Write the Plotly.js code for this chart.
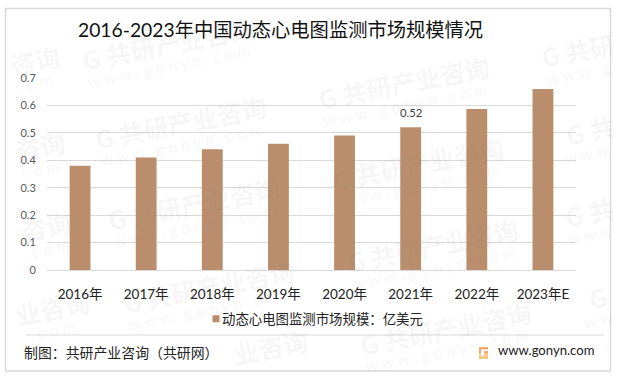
<!DOCTYPE html>
<html><head><meta charset="utf-8">
<script src="https://cdn.plot.ly/plotly-3.0.1.min.js"></script>
<style>html,body{margin:0;padding:0;background:#fff}#c{width:618px;height:376px}</style></head>
<body><div id="c"></div>
<script>
const categories=['2016年','2017年','2018年','2019年','2020年','2021年','2022年','2023年E'];
const values=[0.38,0.41,0.44,0.46,0.49,0.52,0.587,0.66];
const labels=['','','','','','0.52','',''];
const seriesName='动态心电图监测市场规模：亿美元';
const titleText='2016-2023年中国动态心电图监测市场规模情况';
const sourceText='制图：共研产业咨询（共研网）';
const siteText='www.gonyn.com';
const W=618,H=376,L=47,R=576,T=78,B=270;
const px=x=>(x-L)/(R-L), py=y=>(B-y)/(B-T);
const FONT='Lato,"Noto Sans CJK SC",sans-serif';
const WM='rgba(120,120,120,0.075)';
const FULL='G 共研产业咨询', URL='w w w . g o n y n . c o m';
const marks=[
 [168,43,FULL,URL],[181,122,FULL,URL],[404,82,FULL,URL],[418,163,FULL,URL],[194,203,FULL,URL],
 [433,245,FULL,URL],[209,286,FULL,URL],[446,328,FULL,URL],
 [578,50,'G 共研','w w w . g'],[590,130,'G 共','w w w .'],[589,212,'G 共','w w w'],[598,297,'G','w w'],
 [35,60,'咨询','. o m'],[40,146,'咨询','c o m'],[46,226,'咨询','. c o m'],[52,308,'业咨询','. c o m'],
 [270,347,'业咨询','']
];
const ann=[
 {text:titleText,x:px(76),y:py(29),xanchor:'left',font:{size:19.3,color:'#111',family:FONT}},
 {text:sourceText,x:px(21.5),y:py(352),xanchor:'left',font:{size:13.9,color:'#222',family:FONT}},
 {text:siteText,x:px(496),y:py(350),xanchor:'left',font:{size:13.1,color:'#222',family:FONT}}
];
marks.forEach(m=>{
 ann.push({text:'<b>'+m[2]+'</b>',x:px(m[0]),y:py(m[1]),textangle:-11,font:{size:25,color:WM,family:'"Noto Sans CJK SC"'}});
 if(m[3]) ann.push({text:m[3],x:px(m[0]),y:py(m[1]+22),textangle:-11,font:{size:16,color:WM,family:FONT}});
});
labels.forEach((t,i)=>{ if(t) ann.push({text:t,xref:'x',yref:'y',x:categories[i],y:values[i],yanchor:'bottom',yshift:6,font:{size:11.3,color:'#404040',family:FONT}}); });
ann.forEach(a=>{a.xref=a.xref||'paper';a.yref=a.yref||'paper';a.showarrow=false;a.yanchor=a.yanchor||'middle';a.xanchor=a.xanchor||'center';});
Plotly.newPlot('c',[{
 type:'bar',x:categories,y:values,name:seriesName,
 marker:{color:'#BA8E6C'},showlegend:true
}],{
 width:W,height:H,margin:{l:L,r:W-R,t:T,b:H-B,pad:0},
 paper_bgcolor:'#fff',plot_bgcolor:'rgba(0,0,0,0)',bargap:0.685,
 font:{family:FONT},
 xaxis:{type:'category',tickfont:{size:13.5,color:'#222',family:FONT},ticks:'outside',ticklen:12,tickcolor:'rgba(0,0,0,0)',showline:true,linecolor:'#d9d9d9',linewidth:1,showgrid:false},
 yaxis:{range:[0,0.7],dtick:0.1,tickformat:'~g',tickfont:{size:11,color:'#595959',family:FONT},ticks:'outside',ticklen:8,tickcolor:'rgba(0,0,0,0)',gridcolor:'#d9d9d9',gridwidth:1,zeroline:false,showline:false},
 showlegend:true,
 legend:{orientation:'h',x:px(196),xanchor:'left',y:py(319),yanchor:'middle',bgcolor:'rgba(0,0,0,0)',font:{size:13.4,color:'#222',family:FONT},itemwidth:30},
 annotations:ann,
 shapes:[
  {type:'rect',xref:'paper',yref:'paper',x0:px(5.5),x1:px(610.5),y0:py(8.5),y1:py(371),line:{color:'#d9d9d9',width:1.5},fillcolor:'rgba(0,0,0,0)'},
  {type:'line',xref:'paper',yref:'paper',x0:px(26),x1:px(604),y0:py(335),y1:py(335),line:{color:'#d9d9d9',width:1}},
  {type:'rect',xref:'paper',yref:'paper',x0:px(479),x1:px(488),y0:py(347),y1:py(353),line:{width:0},fillcolor:'#F5A96B'},
  {type:'rect',xref:'paper',yref:'paper',x0:px(479),x1:px(488),y0:py(353),y1:py(359),line:{width:0},fillcolor:'#F9C784'},
  {type:'rect',xref:'paper',yref:'paper',x0:px(481),x1:px(488),y0:py(349.5),y1:py(351),line:{width:0},fillcolor:'#fff'},
  {type:'rect',xref:'paper',yref:'paper',x0:px(481),x1:px(484),y0:py(351),y1:py(356),line:{width:0},fillcolor:'#fff'}
 ]
},{displayModeBar:false,staticPlot:true}).then(()=>{
 document.querySelectorAll('.legend .legendpoints path').forEach(p=>{p.setAttribute('d','M3.5,3.5H-3.5V-3.5H3.5Z');});
 document.querySelectorAll('.legend .legendtext').forEach(t=>{t.setAttribute('x','26');});
});
</script></body></html>
